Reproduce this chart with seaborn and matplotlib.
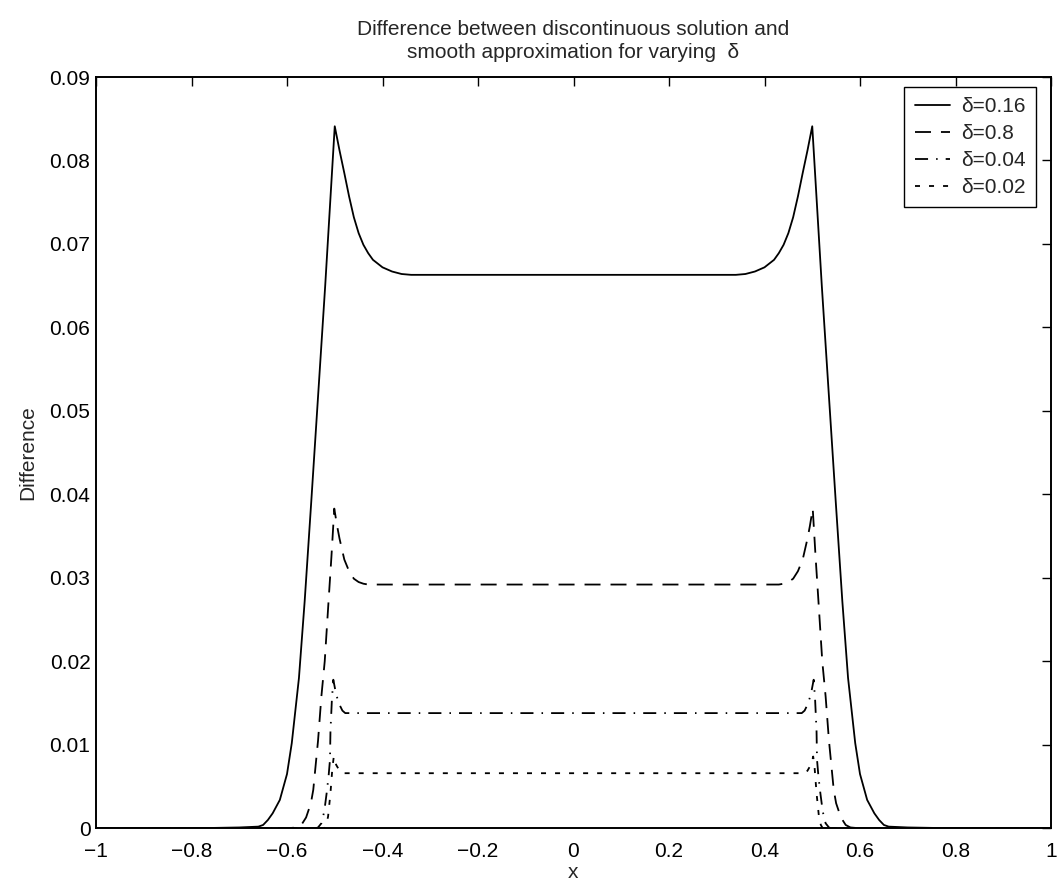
import numpy as np
import pandas as pd
import matplotlib
matplotlib.use("Agg")
import matplotlib.pyplot as plt
import seaborn as sns

# ---------------- data ----------------
x_d016 = [-1.0, -0.80, -0.70, -0.66, -0.65, -0.64, -0.63, -0.615, -0.60, -0.59, -0.575, -0.563,
          -0.549, -0.535, -0.52, -0.50, -0.49, -0.48, -0.47, -0.46, -0.45, -0.44, -0.43, -0.42,
          -0.40, -0.38, -0.36, -0.34,
          0.34, 0.36, 0.38, 0.40, 0.42, 0.43, 0.44, 0.45, 0.46, 0.47, 0.48, 0.49, 0.50,
          0.52, 0.535, 0.549, 0.563, 0.575, 0.59, 0.60, 0.615, 0.63, 0.64, 0.65, 0.66, 0.70, 0.80, 1.0]
y_d016 = [0.0, 0.0, 0.0001, 0.0002, 0.0004, 0.0010, 0.0018, 0.0034, 0.0065, 0.0102, 0.0180, 0.0272,
          0.0393, 0.0517, 0.0650, 0.0841, 0.0812, 0.0785, 0.0757, 0.0732, 0.0713, 0.0699, 0.0689, 0.0681,
          0.0672, 0.0667, 0.0664, 0.0663,
          0.0663, 0.0664, 0.0667, 0.0672, 0.0681, 0.0689, 0.0699, 0.0713, 0.0732, 0.0757, 0.0785, 0.0812, 0.0841,
          0.0650, 0.0517, 0.0393, 0.0272, 0.0180, 0.0102, 0.0065, 0.0034, 0.0018, 0.0010, 0.0004, 0.0002, 0.0001, 0.0, 0.0]

x_d08 = [-1.0, -0.60, -0.58, -0.57, -0.56, -0.55, -0.545, -0.535, -0.528, -0.521, -0.513, -0.507,
         -0.501, -0.495, -0.49, -0.48, -0.47, -0.46, -0.45, -0.44, -0.43,
         0.43, 0.44, 0.45, 0.46, 0.47, 0.48, 0.49, 0.495, 0.501,
         0.507, 0.513, 0.521, 0.528, 0.535, 0.545, 0.55, 0.56, 0.57, 0.58, 0.60, 1.0]
y_d08 = [0.0, 0.0, 0.0001, 0.0004, 0.0013, 0.0030, 0.0046, 0.0105, 0.0158, 0.0200, 0.0272, 0.0325,
         0.0383, 0.0362, 0.0347, 0.0322, 0.0308, 0.0299, 0.0295, 0.0293, 0.0292,
         0.0292, 0.0293, 0.0295, 0.0299, 0.0308, 0.0322, 0.0347, 0.0362, 0.0383,
         0.0325, 0.0272, 0.0200, 0.0158, 0.0105, 0.0046, 0.0030, 0.0013, 0.0004, 0.0001, 0.0, 0.0]

x_d004 = [-1.0, -0.54, -0.535, -0.528, -0.522, -0.517, -0.513, -0.510, -0.509, -0.506, -0.503,
          -0.497, -0.490, -0.484, -0.478,
          0.478, 0.484, 0.490, 0.497,
          0.503, 0.506, 0.509, 0.510, 0.513, 0.517, 0.522, 0.528, 0.535, 0.54, 1.0]
y_d004 = [0.0, 0.0, 0.0001, 0.0006, 0.0020, 0.0042, 0.0062, 0.0082, 0.0116, 0.0154, 0.0178,
          0.0160, 0.0148, 0.0141, 0.0138,
          0.0138, 0.0141, 0.0148, 0.0160,
          0.0178, 0.0154, 0.0116, 0.0082, 0.0062, 0.0042, 0.0020, 0.0006, 0.0001, 0.0, 0.0]

x_d002 = [-1.0, -0.522, -0.518, -0.514, -0.509, -0.505, -0.502, -0.497, -0.490, -0.485,
          0.485, 0.490, 0.497, 0.502, 0.505, 0.509, 0.514, 0.518, 0.522, 1.0]
y_d002 = [0.0, 0.0, 0.0004, 0.0014, 0.0042, 0.0072, 0.0086, 0.0076, 0.0069, 0.0066,
          0.0066, 0.0069, 0.0076, 0.0086, 0.0072, 0.0042, 0.0014, 0.0004, 0.0, 0.0]

series_labels = ["δ=0.16", "δ=0.8", "δ=0.04", "δ=0.02"]
xtick_vals = [-1, -0.8, -0.6, -0.4, -0.2, 0, 0.2, 0.4, 0.6, 0.8, 1]
xtick_labels = ["\u22121", "\u22120.8", "\u22120.6", "\u22120.4", "\u22120.2", "0",
                "0.2", "0.4", "0.6", "0.8", "1"]
ytick_vals = [0, 0.01, 0.02, 0.03, 0.04, 0.05, 0.06, 0.07, 0.08, 0.09]
ytick_labels = ["0", "0.01", "0.02", "0.03", "0.04", "0.05", "0.06", "0.07", "0.08", "0.09"]

# ---------------- style ----------------
sns.set_theme(style="white")
plt.rcParams["font.family"] = ["Liberation Sans", "DejaVu Sans"]
plt.rcParams["lines.scale_dashes"] = False
FS = 15

fig = plt.figure(figsize=(10.57, 8.88), dpi=100)
ax = fig.add_axes([96 / 1057, 59.7 / 888, (1051 - 96) / 1057, (828.3 - 77) / 888])

styles = [
    "-",
    (0, (11.5, 7.2)),
    (0, (9.4, 5.8, 1.1, 5.8)),
    (0, (3.6, 6.5)),
]
xs = [x_d016, x_d08, x_d004, x_d002]
ys = [y_d016, y_d08, y_d004, y_d002]
for xv, yv, lab, ls in zip(xs, ys, series_labels, styles):
    df = pd.DataFrame({"x": xv, "y": yv})
    sns.lineplot(data=df, x="x", y="y", ax=ax, color="black", linewidth=1.3,
                 linestyle=ls, label=lab, sort=False, estimator=None)

ax.set_xlim(-1, 1)
ax.set_ylim(0, 0.09)
ax.set_xticks(xtick_vals)
ax.set_xticklabels(xtick_labels)
ax.set_yticks(ytick_vals)
ax.set_yticklabels(ytick_labels)
ax.tick_params(axis="both", direction="in", length=6.5, width=1.0, colors="black",
               labelsize=FS, top=True, right=True)
ax.tick_params(axis="x", pad=10)
ax.tick_params(axis="y", pad=4)
for sp in ax.spines.values():
    sp.set_visible(True)
    sp.set_color("black")
    sp.set_linewidth(1.4)

ax.set_xlabel("x", fontsize=FS, labelpad=1)
ax.set_ylabel("Difference", fontsize=FS, labelpad=9)
ax.set_title("Difference between discontinuous solution and\nsmooth approximation for varying  δ",
             fontsize=FS, pad=14, linespacing=1.25)

leg = ax.legend(loc="upper right", bbox_to_anchor=(1 - 5 / 955, 1.0), fontsize=FS,
                frameon=True, fancybox=False, edgecolor="black", framealpha=1,
                borderaxespad=0.47, handlelength=1.68, handletextpad=0.54,
                labelspacing=0.38, borderpad=0.5)
leg.get_frame().set_linewidth(1.0)

fig.savefig("out.png", dpi=100)
